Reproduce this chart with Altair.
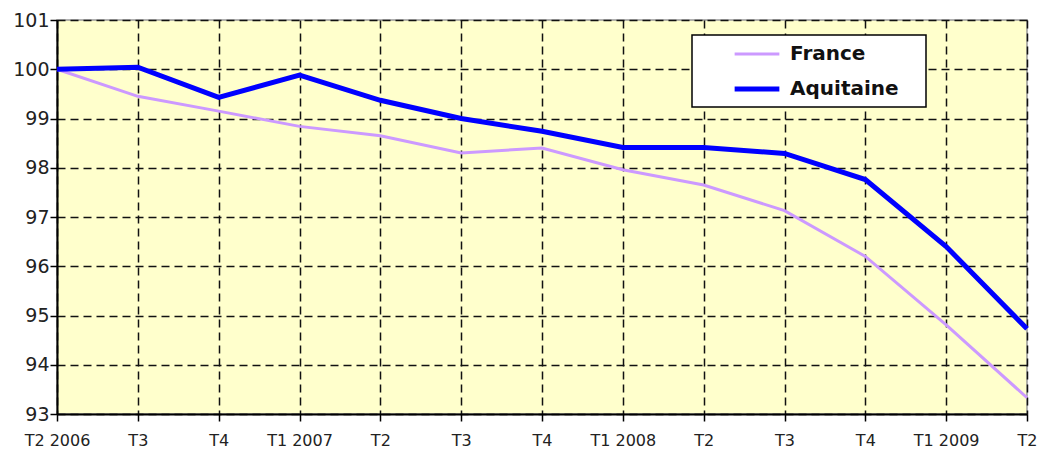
import altair as alt
import pandas as pd

labels = ["T2 2006", "T3", "T4", "T1 2007", "T2", "T3", "T4", "T1 2008",
          "T2", "T3", "T4", "T1 2009", "T2"]
france = [100.0, 99.45, 99.15, 98.84, 98.65, 98.3, 98.4, 97.96, 97.65, 97.13, 96.2, 94.81, 93.33]
aquitaine = [100.0, 100.04, 99.43, 99.88, 99.37, 99.0, 98.74, 98.41, 98.41, 98.29, 97.76, 96.4, 94.73]
series_names = ["France", "Aquitaine"]
y_ticks = list(range(93, 102))

rows = []
for name, vals in zip(series_names, [france, aquitaine]):
    for i, v in enumerate(vals):
        rows.append({"i": i, "v": v, "series": name, "order": series_names.index(name)})
df = pd.DataFrame(rows)

label_expr = "[" + ",".join("'" + l + "'" for l in labels) + "][datum.value]"
FONT = "DejaVu Sans"

legend_box = alt.Chart(pd.DataFrame({"a": [0]})).mark_rect(
    fill="white", stroke="black", strokeWidth=1.5
).encode(x=alt.value(635), x2=alt.value(869), y=alt.value(15), y2=alt.value(87))

leg = dict(title=None, orient="none", legendX=675, legendY=10,
           symbolType="stroke", symbolSize=2000, labelFontSize=20,
           labelFontWeight="bold", labelColor="#111", labelOffset=8,
           rowPadding=0, padding=0)

lines = alt.Chart(df).mark_line().encode(
    x=alt.X("i:Q", scale=alt.Scale(domain=[0, 12], nice=False, zero=False),
            axis=alt.Axis(values=list(range(len(labels))), labelExpr=label_expr, title=None,
                          labelFontSize=16, labelPadding=11, tickSize=7, labelFlush=False)),
    y=alt.Y("v:Q", scale=alt.Scale(domain=[93, 101], nice=False, zero=False),
            axis=alt.Axis(values=y_ticks, title=None, labelFontSize=19, labelPadding=1, tickSize=7)),
    color=alt.Color("series:N", scale=alt.Scale(domain=series_names, range=["#CC99FF", "#0000FF"]),
                    legend=alt.Legend(**leg)),
    strokeWidth=alt.StrokeWidth("series:N", scale=alt.Scale(domain=series_names, range=[3, 5]),
                                legend=alt.Legend(**leg)),
    order=alt.Order("order:Q"),
)

chart = alt.layer(legend_box, lines).properties(
    width=970, height=394,
    autosize=alt.AutoSizeParams(type="none"),
    padding={"left": 49, "top": 12, "right": 10, "bottom": 35},
).configure_view(
    fill="#FFFFCC", stroke="#999999", strokeWidth=1.5
).configure_axis(
    domainColor="black", domainWidth=2, tickColor="black", tickWidth=1.5,
    grid=True, gridColor="#111111", gridDash=[8, 5], gridWidth=1.5,
    labelFont=FONT, labelColor="#222222"
).configure_legend(labelFont=FONT)

chart.save("out.html", embed_options={"renderer": "svg", "actions": False})
